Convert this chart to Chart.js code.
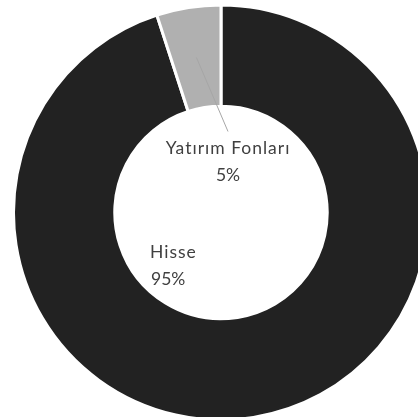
<!DOCTYPE html>
<html><head><meta charset="utf-8">
<script src="https://cdn.jsdelivr.net/npm/chart.js"></script>
<style>
html,body{margin:0;padding:0;background:#fff;overflow:hidden;width:418px;height:417px;}
#wrap{position:absolute;left:12px;top:3px;width:418px;height:419px;}
</style></head><body>
<div id="wrap"><canvas id="c"></canvas></div>
<script>
const categories = ["Hisse", "Yatırım Fonları"];
const values = [95, 5];
const percentLabels = ["95%", "5%"];
const colors = ["#222222", "#b0b0b0"];

const labelPlugin = {
  id: 'sliceLabels',
  afterDatasetsDraw(chart) {
    const ctx = chart.ctx;
    const meta = chart.getDatasetMeta(0);
    const cfg = [
      {dx: -71, dy: 40, align: 'left', leader: false},
      {dx: 7, dy: -64, align: 'center', leader: true}
    ];
    meta.data.forEach((arc, i) => {
      const cx = arc.x, cy = arc.y;
      const c = cfg[i];
      const tx = cx + c.dx, ty = cy + c.dy;
      ctx.save();
      if (c.leader) {
        const p = arc.getCenterPoint();
        ctx.strokeStyle = '#a6a6a6';
        ctx.lineWidth = 1;
        ctx.beginPath();
        ctx.moveTo(p.x, p.y);
        ctx.lineTo(tx, ty - 17);
        ctx.stroke();
      }
      ctx.fillStyle = '#404040';
      ctx.font = '17.5px Lato';
      ctx.letterSpacing = '1px';
      ctx.textAlign = c.align;
      ctx.textBaseline = 'middle';
      ctx.fillText(categories[i], tx, ty);
      ctx.letterSpacing = '0px';
      ctx.fillText(percentLabels[i], c.align === 'left' ? tx + 1 : tx, ty + 27);
      ctx.restore();
    });
  }
};

new Chart(document.getElementById('c'), {
  type: 'doughnut',
  data: {
    labels: categories,
    datasets: [{
      data: values,
      backgroundColor: colors,
      borderColor: '#ffffff',
      borderWidth: 3,
      borderAlign: 'center'
    }]
  },
  options: {
    responsive: true,
    maintainAspectRatio: false,
    animation: false,
    cutout: '51.2%',
    layout: {padding: 0},
    plugins: {legend: {display: false}, tooltip: {enabled: false}}
  },
  plugins: [labelPlugin]
});
</script>
</body></html>
